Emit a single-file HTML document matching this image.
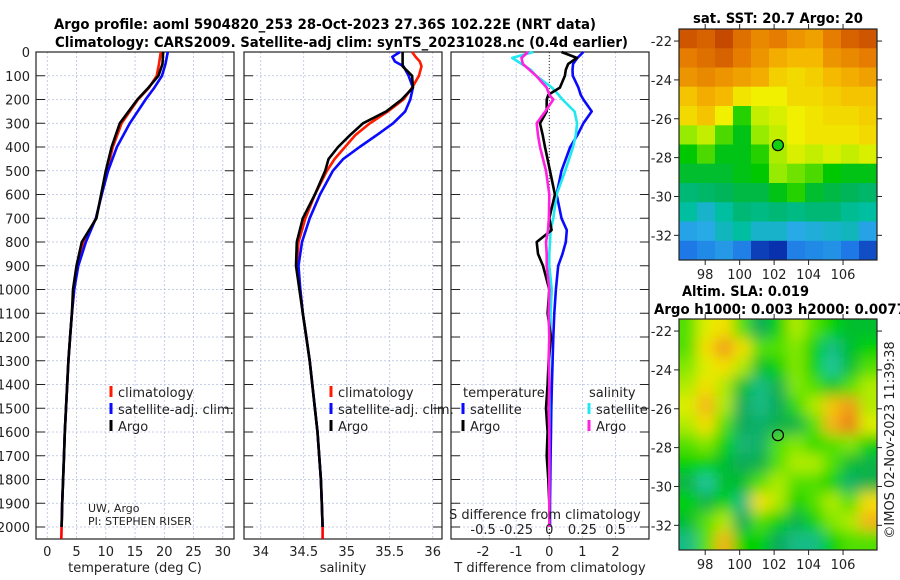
<!DOCTYPE html>
<html><head><meta charset="utf-8"><style>
html,body{margin:0;padding:0;background:#fff;}
svg{display:block;font-family:"DejaVu Sans","Liberation Sans",sans-serif;}
</style></head><body>
<svg id="chart" width="900" height="580" viewBox="0 0 900 580" xmlns="http://www.w3.org/2000/svg">
<defs>
<filter id="blur" x="-20%" y="-20%" width="140%" height="140%"><feGaussianBlur stdDeviation="7"/></filter>
<clipPath id="clipSla"><rect x="679" y="319" width="198" height="231"/></clipPath>
<clipPath id="clipSst"><rect x="679" y="29" width="198" height="231"/></clipPath>
</defs>
<text x="54" y="29" font-size="14" font-weight="bold" textLength="542" lengthAdjust="spacingAndGlyphs">Argo profile: aoml 5904820_253 28-Oct-2023 27.36S 102.22E (NRT data)</text>
<text x="55" y="47" font-size="14" font-weight="bold" textLength="573" lengthAdjust="spacingAndGlyphs">Climatology: CARS2009. Satellite-adj clim: synTS_20231028.nc (0.4d earlier)</text>
<text x="693" y="23" font-size="14" font-weight="bold" textLength="170" lengthAdjust="spacingAndGlyphs">sat. SST: 20.7 Argo: 20</text>
<text x="682" y="296" font-size="14" font-weight="bold" textLength="127" lengthAdjust="spacingAndGlyphs">Altim. SLA: 0.019</text>
<text x="654" y="314" font-size="14" font-weight="bold" textLength="252" lengthAdjust="spacingAndGlyphs">Argo h1000: 0.003 h2000: 0.0077</text>
<text transform="translate(894,440) rotate(-90)" text-anchor="middle" font-size="13" fill="#222">©IMOS 02-Nov-2023 11:39:38</text>
<g id="layer"></g>
</svg>
<script>
// ---------- data ----------
const depthTicks = [0,100,200,300,400,500,600,700,800,900,1000,1100,1200,1300,1400,1500,1600,1700,1800,1900,2000];
const tempTicks = [0,5,10,15,20,25,30];
const salTicks = [34,34.5,35,35.5,36];
const salTickLabels = ["34","34.5","35","35.5","36"];
const diffTTicks = [-2,-1,0,1,2];
const diffSTickLabels = ["-0.5","-0.25","0","0.25","0.5"];
const diffSTicks = [-0.5,-0.25,0,0.25,0.5];

const tempDepth = [0,50,100,150,200,300,400,500,600,700,800,900,1000,1100,1200,1300,1400,1500,1600,1700,1800,1900,2000];
const tempClim  = [19.4,19.1,18.7,17.4,15.5,12.7,11.2,10.2,9.3,8.3,6.2,5.1,4.6,4.2,3.9,3.6,3.4,3.2,3.0,2.85,2.7,2.55,2.45];
const tempSat   = [20.6,20.2,19.6,18.3,16.8,14.1,11.9,10.4,9.3,8.3,6.6,5.3,4.6,4.2,3.9,3.6,3.4,3.2,3.0,2.85,2.7,2.55,2.45];
const tempArgo  = [19.8,19.7,19.0,17.3,15.4,12.4,11.0,10.0,9.2,8.4,5.9,5.0,4.4,4.2,3.9,3.6,3.4,3.2,3.0,2.85,2.7,2.55,2.45];
const tempClimDeep = [2000,2050]; const tempClimDeepVal = [2.45,2.4];

const salDepth = [0,20,40,60,100,150,200,250,300,350,400,450,500,600,700,800,900,1000,1100,1200,1300,1400,1500,1600,1700,1800,1900,2000];
const salClim = [35.76,35.8,35.85,35.87,35.84,35.76,35.66,35.48,35.27,35.10,34.98,34.86,34.77,34.63,34.52,34.44,34.42,34.46,34.49,34.53,34.57,34.60,34.63,34.66,34.68,34.70,34.71,34.72];
const salSat  = [35.62,35.53,35.56,35.66,35.72,35.77,35.74,35.68,35.54,35.35,35.15,34.96,34.84,34.69,34.57,34.48,34.44,34.46,34.49,34.53,34.57,34.60,34.63,34.66,34.68,34.70,34.71,34.72];
const salArgo = [35.65,35.65,35.65,35.65,35.76,35.77,35.64,35.46,35.19,35.04,34.90,34.79,34.75,34.63,34.49,34.42,34.41,34.45,34.49,34.53,34.57,34.60,34.63,34.66,34.68,34.70,34.71,34.72];
const salClimDeep = [2000,2050]; const salClimDeepVal = [34.72,34.72];

const diffDepth = [0,25,50,75,100,150,180,200,250,300,350,400,500,600,700,750,800,850,900,1000,1100,1200,1300,1400,1500,1600,1700,1800,1900,2000];
const dTSat  = [1.03,0.85,0.72,0.70,0.71,0.88,0.95,1.03,1.28,1.03,0.85,0.63,0.37,0.22,0.37,0.53,0.50,0.40,0.27,0.20,0.15,0.12,0.10,0.08,0.06,0.05,0.04,0.03,0.02,0.02];
const dTArgo = [0.37,0.83,0.57,0.50,0.47,0.32,-0.03,-0.08,-0.08,-0.28,-0.20,-0.13,0.02,0.17,0.00,0.07,-0.38,-0.34,-0.19,0.00,-0.05,0.05,-0.02,-0.05,-0.10,-0.05,-0.08,-0.03,0.00,0.00];
const dSSat  = [-0.12,-0.28,-0.21,-0.14,-0.10,0.02,0.07,0.10,0.19,0.21,0.20,0.18,0.12,0.055,0.03,0.01,0.005,0.0,0.0,0.018,0.01,0.01,0.0,0.0,0.0,0.0,0.0,0.0,0.0,0.0];
const dSArgo = [-0.16,-0.21,-0.20,-0.15,-0.10,-0.02,0.00,0.03,-0.03,-0.095,-0.085,-0.07,-0.025,0.0,-0.003,-0.01,-0.025,-0.02,-0.02,0.0,-0.005,0.0,-0.005,0.0,-0.005,0.0,0.0,0.0,0.0,0.0];

// SST map (rows: lat -21.9 .. -32.9 step -1; cols: lon 97 .. 107)
const sstValues = [
[22.3,22.2,22.4,22.1,21.9,22.0,21.8,21.7,22.0,22.2,22.3],
[22.0,22.1,22.2,22.0,21.8,21.6,21.5,21.5,21.8,21.9,22.0],
[21.8,21.9,21.8,21.7,21.6,21.3,21.2,21.3,21.5,21.6,21.7],
[21.4,21.6,21.5,21.1,21.0,21.0,21.2,21.2,21.3,21.4,21.4],
[21.2,21.4,21.0,20.3,20.8,20.9,21.0,21.1,21.2,21.2,21.3],
[20.6,20.8,20.4,20.1,20.6,20.8,21.0,21.1,21.1,21.1,21.2],
[20.2,20.4,20.1,20.1,20.3,20.7,20.9,20.8,20.9,20.8,20.9],
[20.0,20.0,20.0,20.1,20.2,20.6,20.5,20.4,20.2,20.1,20.1],
[19.6,19.7,19.8,19.9,19.9,20.1,20.3,20.0,19.9,19.8,19.7],
[19.3,19.0,19.3,19.6,19.5,19.6,19.5,19.6,19.6,19.4,19.3],
[18.7,18.8,19.1,19.3,19.0,19.0,18.8,18.9,19.0,19.1,18.7],
[18.2,18.4,18.6,18.3,17.8,17.7,18.3,18.4,18.5,18.2,17.9]];
// SLA map (rows lat -22 .. -33, cols lon 97 .. 107)
const slaValues = [
[0.5,1.2,1.5,0.5,-1,0,1,0.5,0,-0.5,-0.5],
[0.5,1.5,2.5,1.5,0.5,0.5,0.8,0,-1.5,-0.5,0],
[0.8,1.2,1.5,1,-0.5,0,0.8,0,-1.8,-0.5,0.5],
[1,1.5,1,-0.5,-1.5,-0.8,0.8,0.5,-0.3,0.5,1],
[1.2,2,1,-1,-1.5,-1,0.3,1,1.8,2.5,1],
[1,1.5,0.5,-1,-1.2,-0.8,-0.8,0.5,2,3,1.2],
[0.5,0.8,0,-1.3,-1.2,0.5,0.8,0.3,0.5,0.8,0],
[0,0,-0.5,-1,-0.8,0.5,1,1,0.5,-0.5,-0.8],
[-0.8,-1.8,-0.5,-0.5,0.5,1,0.5,0.5,0,-1.2,-0.8],
[0,-0.8,0,-1.5,1.5,1,0,0.5,1,0.5,1.5],
[-0.5,0.5,1,-1,0.5,0,-0.8,0,0.8,1,2],
[-1.5,0.5,2,0,0,-1,-1.5,-1.5,0,0.5,0.5]];
const lonTicks = [98,100,102,104,106];
const latTicks = [-22,-24,-26,-28,-30,-32];
const argoLon = 102.22, argoLat = -27.36;

// ---------- helpers ----------
const NS="http://www.w3.org/2000/svg";
const layer=document.getElementById('layer');
function mk(tag,attrs,parent){const e=document.createElementNS(NS,tag);for(const k in attrs)e.setAttribute(k,attrs[k]);(parent||layer).appendChild(e);return e;}
const PT=52, PB=539;
const yD = d => PT + d*0.2375;
const panels = [
 {name:'temperature',x0:36,x1:234,fx:v=>47.3+v*5.85},
 {name:'salinity',x0:244,x1:442,fx:v=>260.7+(v-34)*86},
 {name:'difference',x0:451,x1:649,fx:v=>549.3+v*33.1}
];
function line(px,depths,vals,color,nm,w){
  const pts=depths.map((d,i)=>px.fx(vals[i]).toFixed(1)+','+yD(d).toFixed(1)).join(' ');
  const p=mk('polyline',{points:pts,fill:'none',stroke:color,'stroke-width':w||2.6,'stroke-linejoin':'round'},px.g);
  
  
}
function txt(s,x,y,opt,parent){const t=mk('text',Object.assign({x:x,y:y,'font-size':13,fill:'#222'},opt||{}),parent);t.textContent=s;return t;}

// ---------- profile panels ----------
panels.forEach((p,pi)=>{
  const g=mk('g',{});
  
  
  p.g=g;
  depthTicks.forEach(d=>{mk('line',{x1:p.x0,x2:p.x1,y1:yD(d),y2:yD(d),stroke:'#b8c0e0','stroke-width':0.8,'stroke-dasharray':'2,2'},g);
    mk('line',{x1:p.x0,x2:p.x0+9,y1:yD(d),y2:yD(d),stroke:'#222','stroke-width':1},g);
    mk('line',{x1:p.x1-9,x2:p.x1,y1:yD(d),y2:yD(d),stroke:'#222','stroke-width':1},g);});
  let xt = pi==0?tempTicks:pi==1?salTicks:diffTTicks;
  xt.forEach((v,i)=>{const x=p.fx(v);
    mk('line',{x1:x,x2:x,y1:PT,y2:PB,stroke:'#b8c0e0','stroke-width':0.8,'stroke-dasharray':'2,2'},g);
    const lab = pi==1?salTickLabels[i]:String(v);
    const t=txt(lab,x,556,{'text-anchor':'middle'},g);
    
    
  });
  mk('rect',{x:p.x0,y:PT,width:p.x1-p.x0,height:PB-PT,fill:'none',stroke:'#222','stroke-width':1.2},g);
});
depthTicks.forEach(d=>{const t=txt(String(d),30,yD(d)+5,{'text-anchor':'end'});
  
  });
[['temperature (deg C)',135],['salinity',343],['T difference from climatology',550]].forEach(a=>{
  const t=txt(a[0],a[1],572,{'text-anchor':'middle'});
  
  });
mk('line',{x1:panels[2].fx(0),x2:panels[2].fx(0),y1:PT,y2:PB,stroke:'#333','stroke-width':1,'stroke-dasharray':'1,2'},panels[2].g);

const P1=panels[0],P2=panels[1],P3=panels[2];
line(P1,tempClimDeep,tempClimDeepVal,'#ff0000','temp-climatology-deep',2.6);
line(P1,tempDepth,tempClim,'#ff1a00','temp-climatology-line');
line(P1,tempDepth,tempSat,'#0a0aff','temp-satellite-line');
line(P1,tempDepth,tempArgo,'#000000','temp-argo-line');
line(P2,salClimDeep,salClimDeepVal,'#ff0000','sal-climatology-deep',2.6);
line(P2,salDepth,salClim,'#ff1a00','sal-climatology-line');
line(P2,salDepth,salSat,'#0a0aff','sal-satellite-line');
line(P2,salDepth,salArgo,'#000000','sal-argo-line');
line(P3,diffDepth,dTSat,'#0a0aff','t-diff-satellite-line');
line(P3,diffDepth,dSSat.map(v=>v*4),'#20e8f0','s-diff-satellite-line');
line(P3,diffDepth,dTArgo,'#000000','t-diff-argo-line');
line(P3,diffDepth,dSArgo.map(v=>v*4),'#ff20e0','s-diff-argo-line');

{const t=txt('S difference from climatology',449,519,{},P3.g);}
diffSTicks.forEach((v,i)=>{const t=txt(diffSTickLabels[i],P3.fx(v*4),534,{'text-anchor':'middle'},P3.g);
  });

function legend(entries,x,ys,nm){
  const g=mk('g',{});
  
  
  entries.forEach((e,i)=>{
    if(e[1]) mk('line',{x1:x,x2:x,y1:ys[i]-10,y2:ys[i]+1,stroke:e[1],'stroke-width':3},g);
    txt(e[0],x+(e[1]?7:0),ys[i]+1,{},g);
  });
}
legend([['climatology','#ff1a00'],['satellite-adj. clim.','#0a0aff'],['Argo','#000']],111,[396,413,430],'temp-legend');
legend([['climatology','#ff1a00'],['satellite-adj. clim.','#0a0aff'],['Argo','#000']],331,[396,413,430],'sal-legend');
legend([['temperature',null],['satellite','#0a0aff'],['Argo','#000']],463,[396,413,430],'t-diff-legend');
legend([['salinity',null],['satellite','#20e8f0'],['Argo','#ff20e0']],589,[396,413,430],'s-diff-legend');
{const t=txt('UW, Argo',88,512,{'font-size':11});}
{const t=txt('PI: STEPHEN RISER',88,525,{'font-size':11});}

// ---------- maps ----------
const MX0=679,MX1=877,LON0=96.48,LON1=107.97,LAT0=-21.38,LAT1=-33.27;
const mx = lon => MX0+(lon-LON0)*(MX1-MX0)/(LON1-LON0);
const my = (lat,top) => top+(LAT0-lat)*231/(LAT0-LAT1);
function cmap(stops,v){
  if(v<=stops[0][0])return stops[0][1];
  for(let i=1;i<stops.length;i++){if(v<=stops[i][0]){const a=stops[i-1],b=stops[i],t=(v-a[0])/(b[0]-a[0]);
    return a[1].map((c,k)=>Math.round(c+(b[1][k]-c)*t));}}
  return stops[stops.length-1][1];
}
const sstStops=[[17.5,[0,20,150]],[18.2,[30,120,230]],[18.8,[40,170,230]],[19.3,[0,190,160]],[19.8,[0,180,90]],[20.2,[0,200,0]],[20.6,[150,235,0]],[21.0,[240,240,0]],[21.5,[245,185,0]],[22.0,[230,125,0]],[22.5,[190,60,0]]];
const slaStops=[[-2,[40,205,175]],[-1,[10,170,90]],[0,[0,210,0]],[0.8,[130,232,0]],[1.3,[245,240,0]],[2,[245,180,20]],[3,[235,125,20]]];
function drawMap(values,stops,top,nm,blur,clip){
  const g=mk('g',{'clip-path':'url(#'+clip+')'});
  
  
  const inner = blur?mk('g',{filter:'url(#blur)'},g):g;
  const nr=values.length,nc=values[0].length;
  values.forEach((row,r)=>row.forEach((v,c)=>{
    const lonA=LON0+(LON1-LON0)*c/nc, lonB=LON0+(LON1-LON0)*(c+1)/nc;
    const latA=LAT0+(LAT1-LAT0)*r/nr, latB=LAT0+(LAT1-LAT0)*(r+1)/nr;
    let x=mx(lonA),x2=mx(lonB),y=my(latA,top),y2=my(latB,top);
    if(blur){if(c==0)x-=25;if(c==nc-1)x2+=25;if(r==0)y-=25;if(r==nr-1)y2+=25;}
    const col=cmap(stops,v);
    const cell=mk('rect',{x:x.toFixed(1),y:y.toFixed(1),width:(x2-x+0.6).toFixed(1),height:(y2-y+0.6).toFixed(1),fill:'rgb('+col.join(',')+')'},inner);
    
    
  }));
  const fr=mk('rect',{x:MX0,y:top,width:MX1-MX0,height:231,fill:'none',stroke:'#222','stroke-width':1.2});
  
  
  lonTicks.forEach(l=>{const x=mx(l);mk('line',{x1:x,x2:x,y1:top,y2:top-5,stroke:'#222'});mk('line',{x1:x,x2:x,y1:top+231,y2:top+236,stroke:'#222'});
    const t=txt(String(l),x,top+250,{'text-anchor':'middle'});});
  latTicks.forEach(l=>{const y=my(l,top);mk('line',{x1:MX0,x2:MX0-5,y1:y,y2:y,stroke:'#222'});mk('line',{x1:MX1,x2:MX1+5,y1:y,y2:y,stroke:'#222'});
    const t=txt(String(l),672,y+5,{'text-anchor':'end'});});
  const m=mk('circle',{cx:mx(argoLon),cy:my(argoLat,top),r:5.5,fill:blur?'none':'#10d010',stroke:'#000','stroke-width':1.2});
  
  
}
drawMap(sstValues,sstStops,29,'sst-map',false,'clipSst');
drawMap(slaValues,slaStops,319,'sla-map',true,'clipSla');
</script>
</body></html>
